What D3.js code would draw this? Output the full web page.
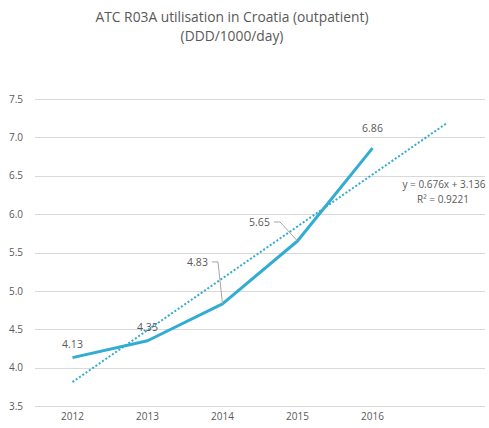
<!DOCTYPE html>
<html>
<head>
<meta charset="utf-8">
<script src="https://cdn.jsdelivr.net/npm/d3@7"></script>
<style>
  body { margin: 0; background: #fff; }
  text { font-family: "Open Sans", sans-serif; fill: #595959; }
</style>
</head>
<body>
<div id="chart"></div>
<script>
// data
var years = ["2012", "2013", "2014", "2015", "2016", ""];
var values = [4.13, 4.35, 4.83, 5.65, 6.86];
var yTicks = [3.5, 4.0, 4.5, 5.0, 5.5, 6.0, 6.5, 7.0, 7.5];
var trendSlope = 0.676, trendIntercept = 3.136;
var trendLabel = ["y = 0.676x + 3.136", "R² = 0.9221"];

var width = 489, height = 428;
var lineColor = "#31acd2";

var svg = d3.select("#chart").append("svg")
  .attr("width", width).attr("height", height);

var x = d3.scaleBand().domain(d3.range(years.length)).range([35, 485]);
var y = d3.scaleLinear().domain([3.5, 7.5]).range([406, 99]);
function cx(i) { return x(i) + x.bandwidth() / 2; }

// title
svg.append("text").attr("x", 232).attr("y", 22).attr("text-anchor", "middle")
  .style("font-size", "13.8px").text("ATC R03A utilisation in Croatia (outpatient)");
svg.append("text").attr("x", 232).attr("y", 41).attr("text-anchor", "middle")
  .style("font-size", "13.8px").text("(DDD/1000/day)");

// grid
svg.selectAll(".grid").data(yTicks).enter().append("line")
  .attr("x1", 35).attr("x2", 485)
  .attr("y1", function(d) { return Math.round(y(d)) + 0.5; })
  .attr("y2", function(d) { return Math.round(y(d)) + 0.5; })
  .style("stroke", "#d9d9d9").style("stroke-width", 1);

// y axis labels
var yAxis = d3.axisLeft(y).tickValues(yTicks).tickFormat(d3.format(".1f")).tickSize(0).tickPadding(0);
var gy = svg.append("g").attr("transform", "translate(23,0)").call(yAxis);
gy.select(".domain").remove();
gy.selectAll("text").style("font-size", "10px").style("fill", "#595959").style("font-family", "Open Sans");

// x axis labels
var xAxis = d3.axisBottom(x).tickFormat(function(i) { return years[i]; }).tickSize(0).tickPadding(0);
var gx = svg.append("g").attr("transform", "translate(0,413)").call(xAxis);
gx.select(".domain").remove();
gx.selectAll("text").style("font-size", "10px").style("fill", "#595959").style("font-family", "Open Sans");

// trend line
var tx0 = 0, tx1 = years.length - 1;
svg.append("line")
  .attr("x1", cx(tx0)).attr("y1", y(trendSlope * (tx0 + 1) + trendIntercept))
  .attr("x2", cx(tx1)).attr("y2", y(trendSlope * (tx1 + 1) + trendIntercept))
  .style("stroke", lineColor).style("stroke-width", 2).style("stroke-dasharray", "2,2");

// data line
var line = d3.line().x(function(d, i) { return cx(i); }).y(function(d) { return y(d); });
svg.append("path").datum(values).attr("d", line)
  .style("fill", "none").style("stroke", lineColor).style("stroke-width", 3)
  .style("stroke-linejoin", "round");

// data labels (label offsets relative to point)
var labelOffsets = [[0, -14], [0, -14], [-25, -42], [-38, -19], [0, -20]];
values.forEach(function(v, i) {
  var px = cx(i), py = y(v);
  var lx = px + labelOffsets[i][0], ly = py + labelOffsets[i][1];
  svg.append("text").attr("x", lx).attr("y", ly + 4).attr("text-anchor", "middle")
    .style("font-size", "10.5px").text(d3.format(".2f")(v));
});

// leader lines for 2014 and 2015
[2, 3].forEach(function(i) {
  var px = cx(i), py = y(values[i]);
  var lx = px + labelOffsets[i][0] + 14.5, ly = py + labelOffsets[i][1];
  svg.append("polyline")
    .attr("points", [[lx, ly], [lx + 6, ly], [px, py]].map(function(p) { return p.join(","); }).join(" "))
    .style("fill", "none").style("stroke", "#a6a6a6").style("stroke-width", 1);
});

// trend equation
svg.append("text").attr("x", 444).attr("y", 188).attr("text-anchor", "middle")
  .style("font-size", "10px").text(trendLabel[0]);
svg.append("text").attr("x", 443).attr("y", 203).attr("text-anchor", "middle")
  .style("font-size", "10px").text(trendLabel[1]);
</script>
</body>
</html>
